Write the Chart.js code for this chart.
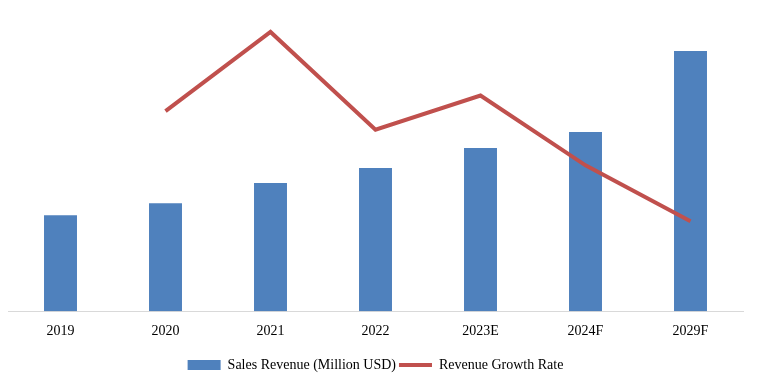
<!DOCTYPE html>
<html>
<head>
<meta charset="utf-8">
<script src="https://cdn.jsdelivr.net/npm/chart.js@4"></script>
<style>
  html, body { margin: 0; padding: 0; background: #ffffff; }
  #wrap { width: 762px; height: 382px; }
</style>
</head>
<body>
<div id="wrap"><canvas id="c" width="762" height="382"></canvas></div>
<script>
const categories = ["2019", "2020", "2021", "2022", "2023E", "2024F", "2029F"];
const salesRevenue = [96, 108, 128, 143, 163, 179, 260];
const growthRate = [null, 12.9, 18.0, 11.7, 13.9, 9.4, 5.8];
const seriesNames = ["Sales Revenue (Million USD)", "Revenue Growth Rate"];

const FONT = "'Liberation Serif', 'Times New Roman', serif";

new Chart(document.getElementById('c'), {
  data: {
    labels: categories,
    datasets: [
      {
        type: 'line',
        label: seriesNames[1],
        data: growthRate,
        yAxisID: 'y1',
        borderColor: '#C0504D',
        backgroundColor: '#C0504D',
        borderWidth: 4,
        pointRadius: 0,
        pointStyle: 'line',
        tension: 0,
        order: 0
      },
      {
        type: 'bar',
        label: seriesNames[0],
        data: salesRevenue,
        yAxisID: 'y',
        backgroundColor: '#4F81BD',
        borderWidth: 0,
        pointStyle: 'rect',
        categoryPercentage: 1,
        barPercentage: 0.314,
        order: 1
      }
    ]
  },
  options: {
    responsive: false,
    animation: false,
    devicePixelRatio: 1,
    layout: { padding: { left: 8, right: 19, top: 11, bottom: 0 } },
    scales: {
      x: {
        grid: { display: false, drawTicks: false },
        border: { display: true, color: '#D9D9D9', width: 1 },
        ticks: { color: '#000', font: { family: FONT, size: 14 }, padding: 12, maxRotation: 0 },
        afterFit: (scale) => { scale.height += 3; }
      },
      y: {
        display: false,
        min: 0,
        max: 300
      },
      y1: {
        display: false,
        position: 'right',
        min: 0,
        max: 19.35
      }
    },
    plugins: {
      tooltip: { enabled: false },
      legend: {
        position: 'bottom',
        reverse: true,
        labels: {
          color: '#000',
          font: { family: FONT, size: 14 },
          usePointStyle: true,
          pointStyleWidth: 33,
          boxHeight: 10,
          padding: 3
        }
      }
    }
  }
});
</script>
</body>
</html>
